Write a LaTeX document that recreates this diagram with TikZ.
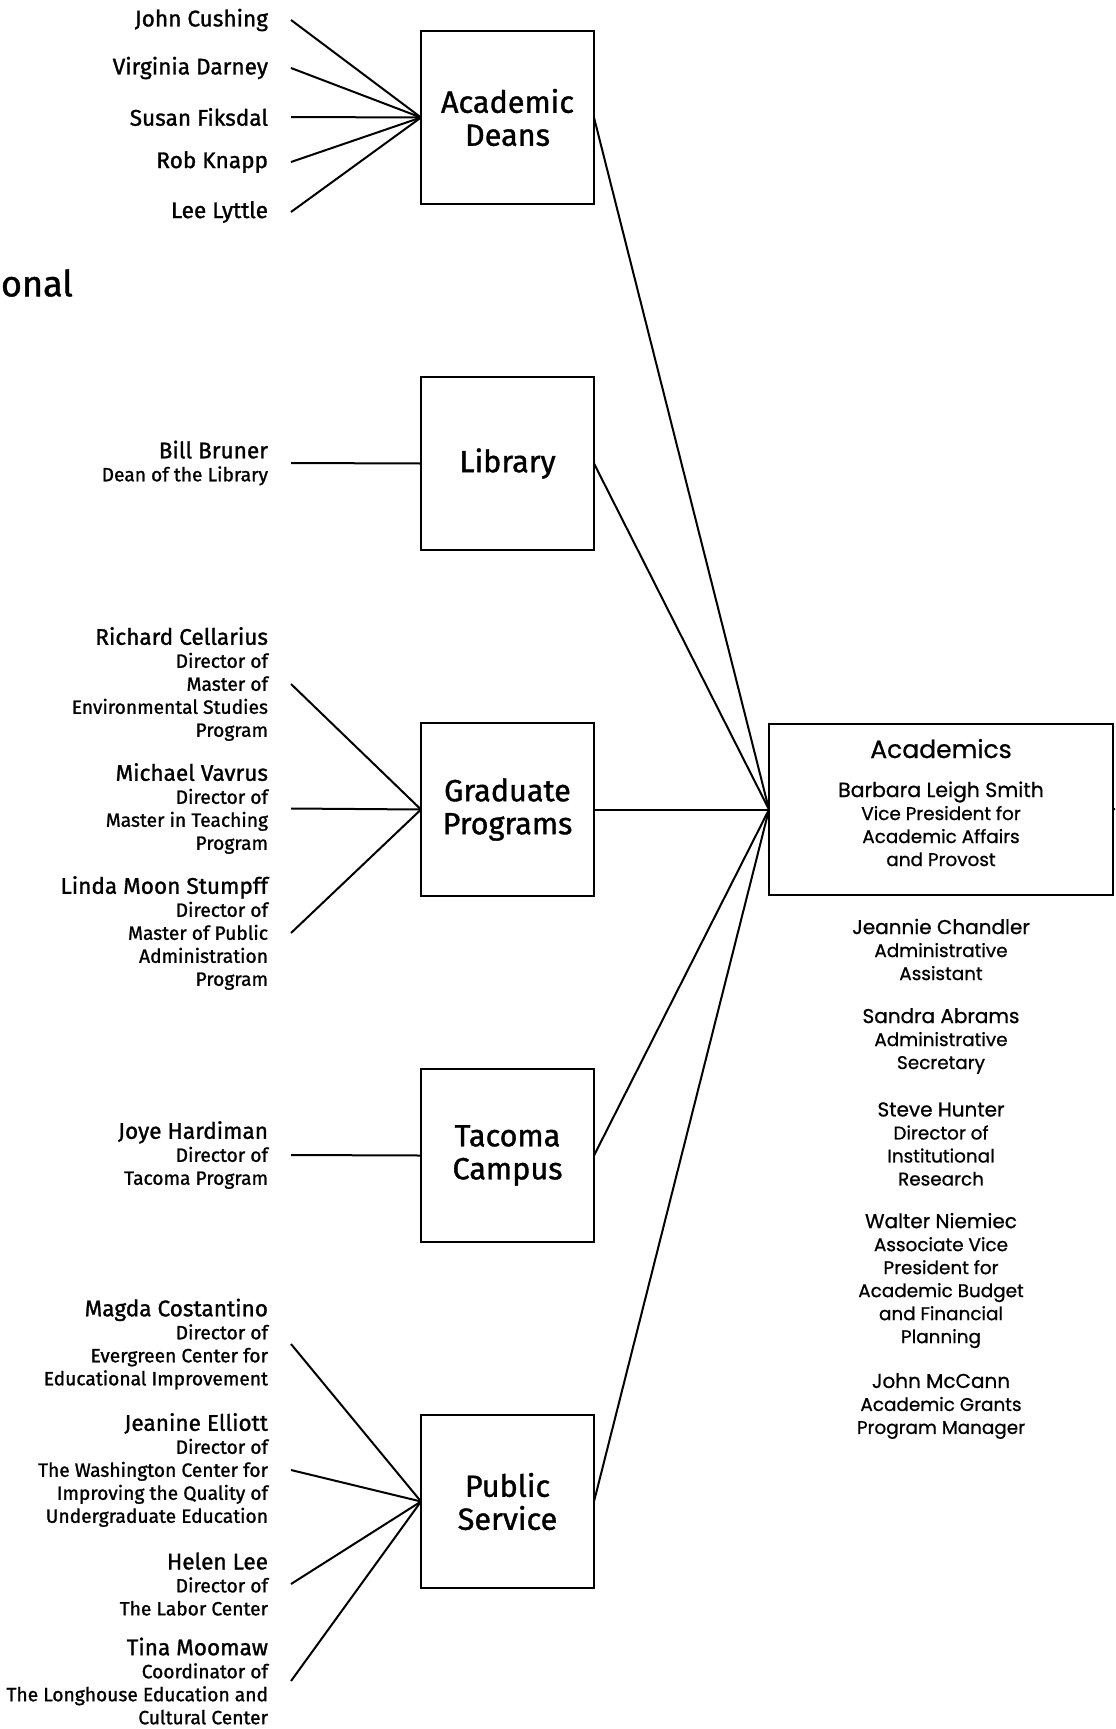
\documentclass[tikz,border=0pt]{standalone}
\usepackage{fontspec}
\setmainfont{Fira Sans}[FakeBold=1.2]
\newfontfamily\staffont{Poppins}[FakeBold=0.8]
\usetikzlibrary{positioning}
\def\dx{87.5pt}
\def\dy{86.5pt}
\newcommand{\nm}{\fontsize{11.3}{11.5}\selectfont}
\newcommand{\sm}{\fontsize{9.6}{11.5}\selectfont}
\newcommand{\rnm}{\fontsize{10}{11.5}\selectfont}
\newcommand{\rsm}{\fontsize{9.2}{11.5}\selectfont}
\tikzstyle{unit}=[draw,outer sep=0pt,minimum width=\dy,minimum height=\dy,align=center,font=\fontsize{15.3}{16.5}\selectfont]
\tikzstyle{person}=[anchor=east,align=right,inner xsep=11pt,inner ysep=0pt,font=\sm]
\tikzstyle{staff}=[align=center,inner sep=0pt,font=\staffont\rsm]
\newcommand{\newPerson}[3]{\node[person](#1) at (291,#2) {#3};}
\newcommand{\newLink}[2]{\draw (#1.east) -- (#2.west);}

\begin{document}
\begin{tikzpicture}[x=0.5pt,y=-0.5pt,
      node distance=\dy and \dx,
      line width=1pt
      ]
      \useasboundingbox (0,0) rectangle (1115,1729);
      \node[anchor=west,inner sep=0pt,font=\fontsize{18}{20}\selectfont](title) at (0,283) {onal};

      % the five units
      \node[unit](deans) at (507.5,117.5) {Academic\\Deans};
      \node[unit,below=of deans](library) {Library};
      \node[unit,below=of library](grad) {Graduate\\Programs};
      \node[unit,below=of grad](tacoma) {Tacoma\\Campus};
      \node[unit,below=of tacoma](public) {Public\\Service};
      \node[unit,right=of grad,minimum width=172pt,minimum height=85.5pt,text depth=7pt,font=\staffont\rsm](acad)
        {{\fontsize{12.5}{15}\selectfont Academics}\\[8pt]{\fontsize{10.2}{11.5}\selectfont Barbara Leigh Smith}\\Vice President for\\Academic Affairs\\and Provost};
      \coordinate (offpage) at (1115,809);

      % people
      \newPerson{cushing}{20}{{\nm John Cushing}}
      \newPerson{darney}{68}{{\nm Virginia Darney}}
      \newPerson{fiksdal}{117}{{\nm Susan Fiksdal}}
      \newPerson{knapp}{162}{{\nm Rob Knapp}}
      \newPerson{lyttle}{212}{{\nm Lee Lyttle}}
      \newPerson{bruner}{463}{{\nm Bill Bruner}\\Dean of the Library}
      \newPerson{cellarius}{684}{{\nm Richard Cellarius}\\Director of\\Master of\\Environmental Studies\\Program}
      \newPerson{vavrus}{808.5}{{\nm Michael Vavrus}\\Director of\\Master in Teaching\\Program}
      \newPerson{stumpff}{933}{{\nm Linda Moon Stumpff}\\Director of\\Master of Public\\Administration\\Program}
      \newPerson{hardiman}{1155}{{\nm Joye Hardiman}\\Director of\\Tacoma Program}
      \newPerson{costantino}{1344}{{\nm Magda Costantino}\\Director of\\Evergreen Center for\\Educational Improvement}
      \newPerson{elliott}{1470}{{\nm Jeanine Elliott}\\Director of\\The Washington Center for\\Improving the Quality of\\Undergraduate Education}
      \newPerson{lee}{1584}{{\nm Helen Lee}\\Director of\\The Labor Center}
      \newPerson{moomaw}{1681}{{\nm Tina Moomaw}\\Coordinator of\\The Longhouse Education and\\Cultural Center}

      % staff of the provost
      \node[staff](chandler) at (941,949.5) {{\rnm Jeannie Chandler}\\Administrative\\Assistant};
      \node[staff](abrams) at (941,1041) {{\rnm Sandra Abrams}\\Administrative\\Secretary};
      \node[staff](hunter) at (941,1144) {{\rnm Steve Hunter}\\Director of\\Institutional\\Research};
      \node[staff](niemiec) at (941,1280.5) {{\rnm Walter Niemiec}\\Associate Vice\\President for\\Academic Budget\\and Financial\\Planning};
      \node[staff](mccann) at (941,1406) {{\rnm John McCann}\\Academic Grants\\Program Manager};

      \newLink{cushing}{deans}
      \newLink{darney}{deans}
      \newLink{fiksdal}{deans}
      \newLink{knapp}{deans}
      \newLink{lyttle}{deans}
      \newLink{bruner}{library}
      \newLink{cellarius}{grad}
      \newLink{vavrus}{grad}
      \newLink{stumpff}{grad}
      \newLink{hardiman}{tacoma}
      \newLink{costantino}{public}
      \newLink{elliott}{public}
      \newLink{lee}{public}
      \newLink{moomaw}{public}

      \newLink{deans}{acad}
      \newLink{library}{acad}
      \newLink{grad}{acad}
      \newLink{tacoma}{acad}
      \newLink{public}{acad}
      \draw (acad.east) -- (offpage);
    \end{tikzpicture}
\end{document}
